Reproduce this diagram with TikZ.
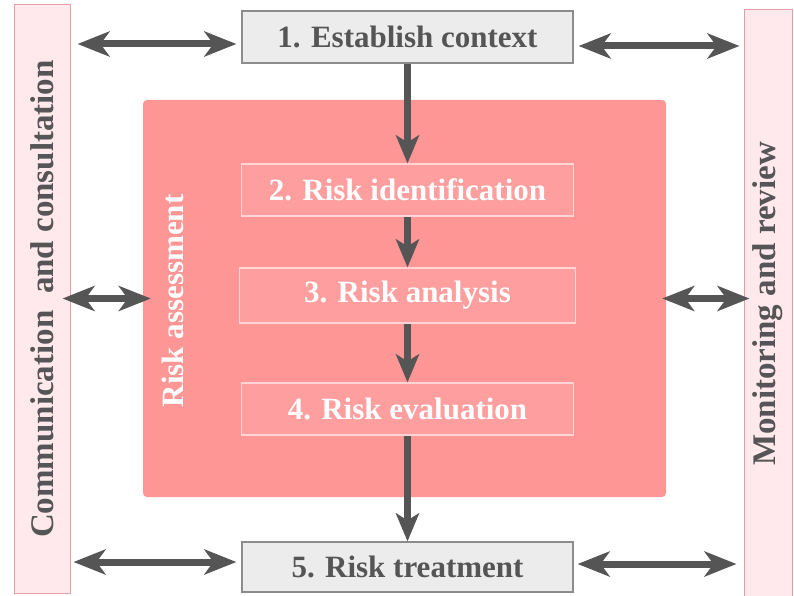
\documentclass[tikz,border=0pt]{standalone}
\usepackage{fontspec}
\setmainfont{Liberation Serif}
\usetikzlibrary{positioning,arrows.meta}
\definecolor{rmpink}{RGB}{255,150,150}
\definecolor{rmpale}{RGB}{255,233,236}
\definecolor{rmedge}{RGB}{226,160,166}
\definecolor{rmgray}{RGB}{85,85,85}
\definecolor{rmbox}{RGB}{236,236,236}
\definecolor{rmline}{RGB}{140,140,140}

\begin{document}
\begin{tikzpicture}[x=1pt,y=1pt,
  txt/.style={font=\fontsize{31}{36}\selectfont\bfseries},
  outer/.style={txt,draw=rmline,line width=1.2pt,fill=rmbox,text=rmgray,minimum width=331pt,minimum height=52pt,inner sep=0pt},
  inner/.style={txt,draw=white!60!rmpink,line width=1.2pt,fill=white,fill opacity=0.08,text opacity=1,text=white,minimum width=332pt,minimum height=52pt,inner sep=0pt},
  side/.style={font=\fontsize{33}{40}\selectfont\bfseries,draw=rmedge,line width=1pt,fill=rmpale,text=rmgray,rotate=90,inner sep=0pt},
  flow/.style={draw=rmgray,line width=7pt,-{Stealth[length=28pt,width=23pt,inset=7pt]}},
  dbl/.style={draw=rmgray,line width=7pt,{Stealth[length=32pt,width=25pt,inset=9pt]}-{Stealth[length=32pt,width=25pt,inset=9pt]}}
]
\useasboundingbox (0,0) rectangle (794,-596);

% side bars (rotated: south is the inner side of comm, north the inner side of moni)
\node[side,minimum width=588pt,minimum height=56pt] (comm) at (42,-299) {Communication\ \ and consultation};
\node[side,minimum width=588pt,minimum height=48pt] (moni) at (768,-304) {Monitoring and review};

% risk assessment block
\node[fill=rmpink,rounded corners=4pt,minimum width=523pt,minimum height=397pt] (assess) at (404.5,-298.5) {};
\node[txt,text=white,rotate=90] (assesslbl) at (173,-301) {Risk assessment};

% steps
\node[outer] (est) at (407.5,-37) {1. Establish context};
\node[inner] (ident) at (407.5,-190) {2. Risk identification};
\node[inner,minimum width=336pt,minimum height=55pt] (anal) at (407.5,-295.5) {3. Risk analysis};
\node[inner] (evalu) at (407.5,-409) {4. Risk evaluation};
\node[outer,minimum height=50pt] (treat) at (407.5,-567) {5. Risk treatment};

% flow down
\draw[flow] (est.south) -- (ident.north);
\draw[flow] (ident.south) -- (anal.north);
\draw[flow] (anal.south) -- (evalu.north);
\draw[flow] (evalu.south) -- (treat.north);

% links to the side bars
\draw[dbl,shorten <=5pt,shorten >=7pt] ([yshift=-7pt]est.west) -- ([yshift=-7pt]est.west -| comm.south);
\draw[dbl,shorten <=5pt,shorten >=4pt] ([yshift=-9pt]est.east) -- ([yshift=-9pt]est.east -| moni.north);
\draw[dbl,shorten <=-8pt,shorten >=-8pt] (assess.west) -- (assess.west -| comm.south);
\draw[dbl,shorten <=-4pt,shorten >=-6pt] (assess.east) -- (assess.east -| moni.north);
\draw[dbl,shorten <=5pt,shorten >=3pt] ([yshift=5pt]treat.west) -- ([yshift=5pt]treat.west -| comm.south);
\draw[dbl,shorten <=4pt,shorten >=7pt] ([yshift=3pt]treat.east) -- ([yshift=3pt]treat.east -| moni.north);

\end{tikzpicture}
\end{document}
